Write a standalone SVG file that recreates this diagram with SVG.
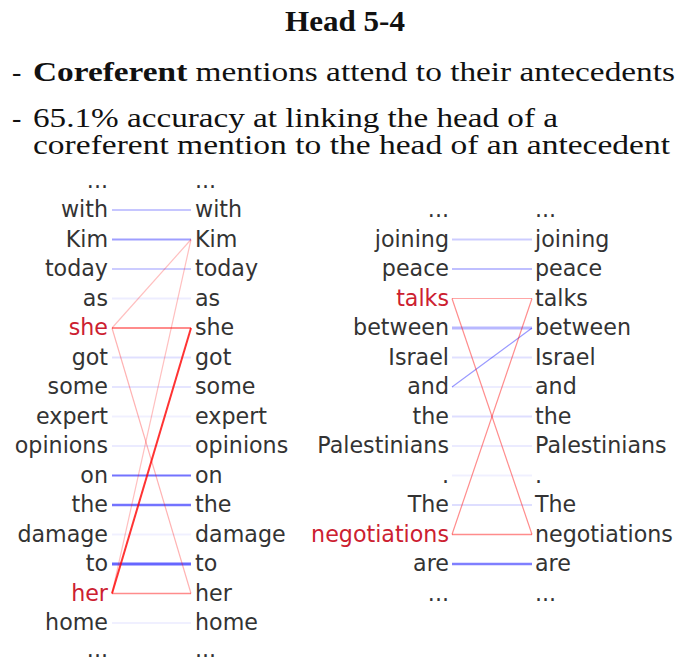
<svg xmlns="http://www.w3.org/2000/svg" width="678" height="660" viewBox="0 0 678 660">
<style>
.hd{font-family:"Liberation Serif","Times New Roman",serif;fill:#111}
.tk{font-family:"DejaVu Sans",Verdana,sans-serif;font-size:22.2px;fill:#333}
.l{text-anchor:end}
.hl{fill:#cc2030}
.b{stroke:#0000ff;fill:none}
.r{stroke:#ff0000;fill:none}
</style>
<rect width="678" height="660" fill="#fff"/>
<g id="header">
<text class="hd" x="345" y="31" font-size="29" font-weight="bold" text-anchor="middle" textLength="120" lengthAdjust="spacingAndGlyphs">Head 5-4</text>
<text class="hd" x="12" y="81" font-size="28">-</text>
<text class="hd" x="33" y="81" font-size="28" textLength="642" lengthAdjust="spacingAndGlyphs"><tspan font-weight="bold">Coreferent</tspan> mentions attend to their antecedents</text>
<text class="hd" x="12" y="127" font-size="28">-</text>
<text class="hd" x="33" y="127" font-size="28" textLength="525" lengthAdjust="spacingAndGlyphs">65.1% accuracy at linking the head of a</text>
<text class="hd" x="33" y="154" font-size="28" textLength="637" lengthAdjust="spacingAndGlyphs">coreferent mention to the head of an antecedent</text>
</g>
<g id="connectors">
<!-- left diagram -->
<line class="b" x1="112" y1="210" x2="191" y2="210" stroke-width="1.5" stroke-opacity="0.3"/>
<line class="b" x1="112" y1="239.5" x2="191" y2="239.5" stroke-width="2" stroke-opacity="0.38"/>
<line class="b" x1="112" y1="269" x2="191" y2="269" stroke-width="2" stroke-opacity="0.2"/>
<line class="b" x1="112" y1="298.5" x2="191" y2="298.5" stroke-width="2" stroke-opacity="0.07"/>
<line class="b" x1="112" y1="357.5" x2="191" y2="357.5" stroke-width="2" stroke-opacity="0.12"/>
<line class="b" x1="112" y1="387" x2="191" y2="387" stroke-width="2" stroke-opacity="0.1"/>
<line class="b" x1="112" y1="416.5" x2="191" y2="416.5" stroke-width="2" stroke-opacity="0.06"/>
<line class="b" x1="112" y1="446" x2="191" y2="446" stroke-width="2" stroke-opacity="0.08"/>
<line class="b" x1="112" y1="475.5" x2="191" y2="475.5" stroke-width="2" stroke-opacity="0.55"/>
<line class="b" x1="112" y1="505" x2="191" y2="505" stroke-width="2.5" stroke-opacity="0.55"/>
<line class="b" x1="112" y1="534.5" x2="191" y2="534.5" stroke-width="2" stroke-opacity="0.06"/>
<line class="b" x1="112" y1="564" x2="191" y2="564" stroke-width="3" stroke-opacity="0.6"/>
<line class="b" x1="112" y1="623" x2="191" y2="623" stroke-width="2" stroke-opacity="0.06"/>
<line class="r" x1="112" y1="328" x2="191" y2="328" stroke-width="2" stroke-opacity="0.45"/>
<line class="r" x1="112" y1="328" x2="191" y2="239.5" stroke-width="1.2" stroke-opacity="0.25"/>
<line class="r" x1="112" y1="328" x2="191" y2="593.5" stroke-width="1.2" stroke-opacity="0.3"/>
<line class="r" x1="112" y1="593.5" x2="191" y2="239.5" stroke-width="1.2" stroke-opacity="0.25"/>
<line class="r" x1="112" y1="593.5" x2="191" y2="328" stroke-width="2" stroke-opacity="0.8"/>
<line class="r" x1="112" y1="593.5" x2="191" y2="593.5" stroke-width="1.5" stroke-opacity="0.45"/>
<!-- right diagram -->
<line class="b" x1="452" y1="239.5" x2="532" y2="239.5" stroke-width="2" stroke-opacity="0.2"/>
<line class="b" x1="452" y1="269" x2="532" y2="269" stroke-width="2" stroke-opacity="0.25"/>
<line class="b" x1="452" y1="328" x2="532" y2="328" stroke-width="3" stroke-opacity="0.28"/>
<line class="b" x1="452" y1="357.5" x2="532" y2="357.5" stroke-width="2" stroke-opacity="0.12"/>
<line class="b" x1="452" y1="387" x2="532" y2="387" stroke-width="2" stroke-opacity="0.07"/>
<line class="b" x1="452" y1="416.5" x2="532" y2="416.5" stroke-width="2" stroke-opacity="0.13"/>
<line class="b" x1="452" y1="446" x2="532" y2="446" stroke-width="2" stroke-opacity="0.08"/>
<line class="b" x1="452" y1="475.5" x2="532" y2="475.5" stroke-width="2" stroke-opacity="0.06"/>
<line class="b" x1="452" y1="505" x2="532" y2="505" stroke-width="2" stroke-opacity="0.13"/>
<line class="b" x1="452" y1="564" x2="532" y2="564" stroke-width="2.5" stroke-opacity="0.5"/>
<line class="b" x1="452" y1="387" x2="532" y2="328" stroke-width="1.2" stroke-opacity="0.4"/>
<line class="r" x1="452" y1="298.5" x2="532" y2="298.5" stroke-width="1.2" stroke-opacity="0.35"/>
<line class="r" x1="452" y1="298.5" x2="532" y2="534.5" stroke-width="1.2" stroke-opacity="0.45"/>
<line class="r" x1="452" y1="534.5" x2="532" y2="298.5" stroke-width="1.2" stroke-opacity="0.45"/>
<line class="r" x1="452" y1="534.5" x2="532" y2="534.5" stroke-width="1.5" stroke-opacity="0.45"/>
</g>
<g id="left-diagram">
<g id="L-src-0"><text class="tk l" x="108" y="187.5">...</text></g>
<g id="L-src-1"><text class="tk l" x="108" y="217">with</text></g>
<g id="L-src-2"><text class="tk l" x="108" y="246.5">Kim</text></g>
<g id="L-src-3"><text class="tk l" x="108" y="276">today</text></g>
<g id="L-src-4"><text class="tk l" x="108" y="305.5">as</text></g>
<g id="L-src-5"><text class="tk l hl" x="108" y="335">she</text></g>
<g id="L-src-6"><text class="tk l" x="108" y="364.5">got</text></g>
<g id="L-src-7"><text class="tk l" x="108" y="394">some</text></g>
<g id="L-src-8"><text class="tk l" x="108" y="423.5">expert</text></g>
<g id="L-src-9"><text class="tk l" x="108" y="453">opinions</text></g>
<g id="L-src-10"><text class="tk l" x="108" y="482.5">on</text></g>
<g id="L-src-11"><text class="tk l" x="108" y="512">the</text></g>
<g id="L-src-12"><text class="tk l" x="108" y="541.5">damage</text></g>
<g id="L-src-13"><text class="tk l" x="108" y="571">to</text></g>
<g id="L-src-14"><text class="tk l hl" x="108" y="600.5">her</text></g>
<g id="L-src-15"><text class="tk l" x="108" y="630">home</text></g>
<g id="L-src-16"><text class="tk l" x="108" y="656.5">...</text></g>
<g id="L-dst-0"><text class="tk" x="195" y="187.5">...</text></g>
<g id="L-dst-1"><text class="tk" x="195" y="217">with</text></g>
<g id="L-dst-2"><text class="tk" x="195" y="246.5">Kim</text></g>
<g id="L-dst-3"><text class="tk" x="195" y="276">today</text></g>
<g id="L-dst-4"><text class="tk" x="195" y="305.5">as</text></g>
<g id="L-dst-5"><text class="tk" x="195" y="335">she</text></g>
<g id="L-dst-6"><text class="tk" x="195" y="364.5">got</text></g>
<g id="L-dst-7"><text class="tk" x="195" y="394">some</text></g>
<g id="L-dst-8"><text class="tk" x="195" y="423.5">expert</text></g>
<g id="L-dst-9"><text class="tk" x="195" y="453">opinions</text></g>
<g id="L-dst-10"><text class="tk" x="195" y="482.5">on</text></g>
<g id="L-dst-11"><text class="tk" x="195" y="512">the</text></g>
<g id="L-dst-12"><text class="tk" x="195" y="541.5">damage</text></g>
<g id="L-dst-13"><text class="tk" x="195" y="571">to</text></g>
<g id="L-dst-14"><text class="tk" x="195" y="600.5">her</text></g>
<g id="L-dst-15"><text class="tk" x="195" y="630">home</text></g>
<g id="L-dst-16"><text class="tk" x="195" y="656.5">...</text></g>
</g>
<g id="right-diagram">
<g id="R-src-1"><text class="tk l" x="449" y="217">...</text></g>
<g id="R-src-2"><text class="tk l" x="449" y="246.5">joining</text></g>
<g id="R-src-3"><text class="tk l" x="449" y="276">peace</text></g>
<g id="R-src-4"><text class="tk l hl" x="449" y="305.5">talks</text></g>
<g id="R-src-5"><text class="tk l" x="449" y="335">between</text></g>
<g id="R-src-6"><text class="tk l" x="449" y="364.5">Israel</text></g>
<g id="R-src-7"><text class="tk l" x="449" y="394">and</text></g>
<g id="R-src-8"><text class="tk l" x="449" y="423.5">the</text></g>
<g id="R-src-9"><text class="tk l" x="449" y="453">Palestinians</text></g>
<g id="R-src-10"><text class="tk l" x="449" y="482.5">.</text></g>
<g id="R-src-11"><text class="tk l" x="449" y="512">The</text></g>
<g id="R-src-12"><text class="tk l hl" x="449" y="541.5">negotiations</text></g>
<g id="R-src-13"><text class="tk l" x="449" y="571">are</text></g>
<g id="R-src-14"><text class="tk l" x="449" y="600.5">...</text></g>
<g id="R-dst-1"><text class="tk" x="535" y="217">...</text></g>
<g id="R-dst-2"><text class="tk" x="535" y="246.5">joining</text></g>
<g id="R-dst-3"><text class="tk" x="535" y="276">peace</text></g>
<g id="R-dst-4"><text class="tk" x="535" y="305.5">talks</text></g>
<g id="R-dst-5"><text class="tk" x="535" y="335">between</text></g>
<g id="R-dst-6"><text class="tk" x="535" y="364.5">Israel</text></g>
<g id="R-dst-7"><text class="tk" x="535" y="394">and</text></g>
<g id="R-dst-8"><text class="tk" x="535" y="423.5">the</text></g>
<g id="R-dst-9"><text class="tk" x="535" y="453">Palestinians</text></g>
<g id="R-dst-10"><text class="tk" x="535" y="482.5">.</text></g>
<g id="R-dst-11"><text class="tk" x="535" y="512">The</text></g>
<g id="R-dst-12"><text class="tk" x="535" y="541.5">negotiations</text></g>
<g id="R-dst-13"><text class="tk" x="535" y="571">are</text></g>
<g id="R-dst-14"><text class="tk" x="535" y="600.5">...</text></g>
</g>
</svg>
